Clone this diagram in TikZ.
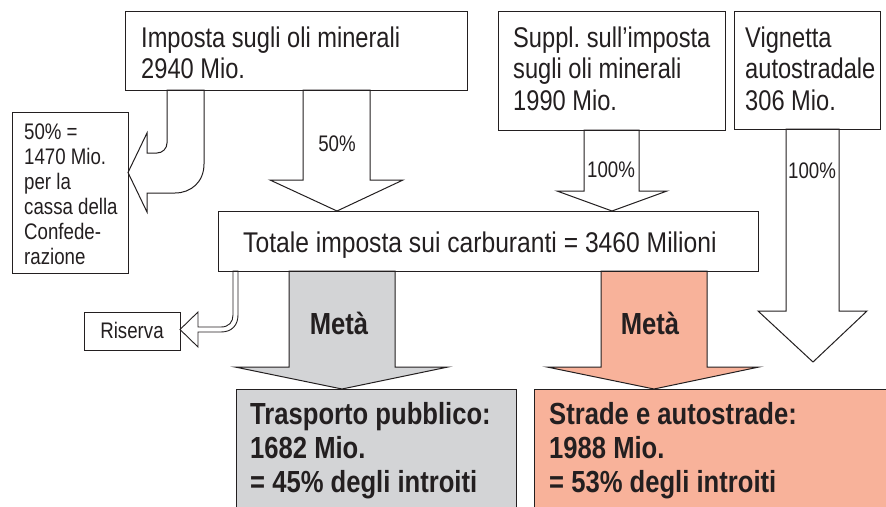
\documentclass[tikz,border=0pt]{standalone}
\usepackage{fontspec}
\setmainfont[FakeStretch=0.83]{Liberation Sans}
\newfontfamily\bfam[FakeStretch=0.84]{Liberation Sans}
\newfontfamily\tfam[FakeStretch=0.865]{Liberation Sans}
\definecolor{ink}{RGB}{35,31,32}
\definecolor{gfill}{RGB}{211,212,214}
\definecolor{ofill}{RGB}{248,178,154}
\tikzset{
  box/.style={draw=ink, line width=1pt, fill=white, inner sep=0pt, outer sep=0pt, anchor=north west},
  arr/.style={draw=ink, line width=1pt, line join=miter, fill=white},
  bigtxt/.style={anchor=north west, inner sep=0pt, align=left, text=ink, font=\fontsize{28.5}{31.5}\selectfont},
  smalltxt/.style={inner sep=0pt, align=left, text=ink, font=\fontsize{22.5}{25}\selectfont},
  boldtxt/.style={anchor=north west, inner sep=0pt, align=left, text=ink, font=\bfam\bfseries\fontsize{30.5}{34}\selectfont},
}
\begin{document}
\begin{tikzpicture}[x=1pt,y=-1pt]
\useasboundingbox (0,0) rectangle (886,506);
\clip (0,0) rectangle (886,506);
\fill[white] (0,0) rectangle (886,506);

% boxes
\node[box, minimum width=342pt, minimum height=79pt] (b1) at (125,11) {};
\node[box, minimum width=227pt, minimum height=119pt] (b2) at (498,11) {};
\node[box, minimum width=146pt, minimum height=118pt] (b3) at (734,11) {};
\node[box, minimum width=116pt, minimum height=161pt] (lb) at (12,112) {};
\node[box, minimum width=540pt, minimum height=60pt] (tb) at (218,211) {};
\node[box, minimum width=96pt, minimum height=38pt] (rb) at (84,312) {};
\node[box, fill=gfill, minimum width=280pt, minimum height=140pt] (gb) at (236,389) {};
\node[box, fill=ofill, minimum width=370pt, minimum height=140pt] (ob) at (534,389) {};

% block arrows
\filldraw[arr] (303,0 |- b1.south) -- (303,180) -- (270,180) -- (337,0 |- tb.north)
  -- (403,180) -- (370,180) -- (370,0 |- b1.south) -- cycle;
\filldraw[arr] (584,0 |- b2.south) -- (584,191) -- (557,191) -- (612,0 |- tb.north)
  -- (667,191) -- (639,191) -- (639,0 |- b2.south) -- cycle;
\filldraw[arr] (786,0 |- b3.south) -- (786,311) -- (758,311) -- (813,362)
  -- (867,311) -- (839,311) -- (839,0 |- b3.south) -- cycle;
\filldraw[arr, fill=gfill] (289,0 |- tb.south) -- (289,367) -- (235,367) -- (342,0 |- gb.north)
  -- (448,367) -- (395,367) -- (395,0 |- tb.south) -- cycle;
\filldraw[arr, fill=ofill] (601,0 |- tb.south) -- (601,367) -- (547,367) -- (654,0 |- ob.north)
  -- (759,367) -- (707,367) -- (707,0 |- tb.south) -- cycle;

% curved arrow to the Confederation box
\filldraw[arr] (167,0 |- b1.south) -- (167,143) .. controls (167,148.5) and (162.5,153) .. (157,153)
  -- (147,153) -- (147,133) -- (lb.east |- 0,172.5) -- (147,212) -- (147,193) -- (175,193)
  .. controls (191,193) and (204,182) .. (204,164) -- (204,0 |- b1.south) -- cycle;

% double line arrow to Riserva
\filldraw[arr, line width=0.9pt] (233,0 |- tb.south) -- (233,315) .. controls (233,322) and (229,327) .. (221,327)
  -- (198,327) -- (198,312) -- (rb.east |- 0,329.5) -- (198,347) -- (198,332) -- (221,332)
  .. controls (232,332) and (238,325) .. (238,315) -- (238,0 |- tb.south) -- cycle;

% box borders on top
\foreach \n in {b1,b2,b3,lb,tb,rb,gb,ob}{
  \draw[ink, line width=1pt] (\n.north west) rectangle (\n.south east);
}

% texts
\node[bigtxt] (t1) at (141,26.5) {Imposta sugli oli minerali\\2940 Mio.};
\node[bigtxt] (t2) at (513,26.5) {Suppl.\ sull’imposta\\sugli oli minerali\\1990 Mio.};
\node[bigtxt] (t3) at (745,26.5) {Vignetta\\autostradale\\306 Mio.};
\node[smalltxt, anchor=north west] (t4) at (24,124) {50\% =\\1470 Mio.\\per la\\cassa della\\Confede-\\razione};
\node[bigtxt, font=\tfam\fontsize{28.5}{31.5}\selectfont] (t5) at (243,231.5) {Totale imposta sui carburanti = 3460 Milioni};
\node[smalltxt, anchor=base] (t6) at (132,338) {Riserva};
\node[smalltxt, anchor=base] (l1) at (337,151) {50\%};
\node[smalltxt, anchor=base west] (l2) at (587,177) {100\%};
\node[smalltxt, anchor=base west] (l3) at (788,178) {100\%};
\node[boldtxt, anchor=base] (m1) at (339,334) {Metà};
\node[boldtxt, anchor=base] (m2) at (650,334) {Metà};
\node[boldtxt] (g1) at (250,402) {Trasporto pubblico:\\1682 Mio.\\= 45\% degli introiti};
\node[boldtxt] (o1) at (549,402) {Strade e autostrade:\\1988 Mio.\\= 53\% degli introiti};
\end{tikzpicture}
\end{document}
